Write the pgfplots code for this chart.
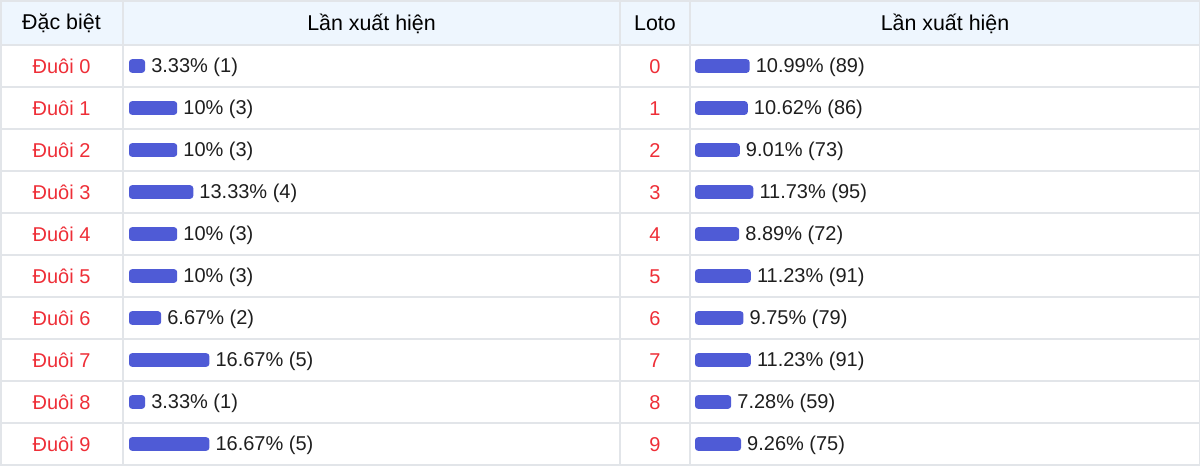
\documentclass[border=0pt]{standalone}
\usepackage{pgfplots}
\pgfplotsset{compat=1.18}
\usepackage{pgfplotstable}
\usepackage{fontspec}
\setmainfont{Liberation Sans}
\definecolor{barblue}{HTML}{4F5BD6}
\definecolor{redtxt}{HTML}{EE2E37}
\definecolor{headbg}{HTML}{EEF6FE}
\definecolor{gridc}{HTML}{E2E5E9}
\definecolor{txt}{HTML}{1E1E1E}
\newcommand\fs{\fontsize{10pt}{12pt}\selectfont}
\newcommand\hfs{\fontsize{10.7pt}{12pt}\selectfont}

\pgfplotstableread{
r pct n
0 3.33 1
1 10 3
2 10 3
3 13.33 4
4 10 3
5 10 3
6 6.67 2
7 16.67 5
8 3.33 1
9 16.67 5
}\dbtable

\pgfplotstableread{
r pct n
0 10.99 89
1 10.62 86
2 9.01 73
3 11.73 95
4 8.89 72
5 11.23 91
6 9.75 79
7 11.23 91
8 7.28 59
9 9.26 75
}\lototable

\pgfplotsset{
  rowbars/.style={
    scale only axis, height=210pt,
    anchor=north west,
    xmin=0, xmax=100, ymin=-0.5, ymax=9.5, y dir=reverse,
    xbar, bar width=6.8pt,
    axis line style={draw=none}, tick style={draw=none}, major tick length=0pt,
    xtick=\empty, ytick={0,...,9},
    yticklabel style={anchor=center, text=redtxt, font=\fs, yshift=-0.4pt},
    clip=false,
    point meta=x,
    /pgf/number format/assume math mode=true,
    nodes near coords={\pgfmathprintnumber{\pgfplotspointmeta}\% (\pgfmathprintnumber[fixed,precision=0]{\cnt})},
    every node near coord/.append style={anchor=west, inner sep=0pt, xshift=2.9pt, yshift=-0.6pt, font=\fs, text=txt},
  }
}

\begin{document}
\begin{tikzpicture}[x=0.5pt,y=-0.5pt]
\useasboundingbox (0,0) rectangle (1200,466);
\fill[headbg] (0,0) rectangle (1200,45);
\foreach \yy in {45,87,...,465} \draw[gridc,line width=1pt] (0,\yy) -- (1200,\yy);
\draw[gridc,line width=1pt] (0,0.5) -- (1200,0.5);
\foreach \xx in {123,620,690} \draw[gridc,line width=1pt] (\xx,0) -- (\xx,466);
\draw[gridc,line width=1pt] (0.5,0) -- (0.5,466);
\draw[gridc,line width=1pt] (1199.5,0) -- (1199.5,466);
\node[font=\hfs,text=black] at (61.5,23.5) {Đặc biệt};
\node[font=\hfs,text=black] at (371.5,23.5) {Lần xuất hiện};
\node[font=\hfs,text=black] at (655,23.5) {Loto};
\node[font=\hfs,text=black] at (945,23.5) {Lần xuất hiện};

\begin{axis}[rowbars, at={(64.5pt,-22.5pt)}, width=241pt,
  yticklabels={Đuôi 0,Đuôi 1,Đuôi 2,Đuôi 3,Đuôi 4,Đuôi 5,Đuôi 6,Đuôi 7,Đuôi 8,Đuôi 9},
  yticklabel style={xshift=-33.75pt}]
\addplot[fill=barblue, draw=none, rounded corners=1.5pt,
  visualization depends on={\thisrow{n}\as\cnt}] table[x=pct,y=r]{\dbtable};
\end{axis}

\begin{axis}[rowbars, at={(347.5pt,-22.5pt)}, width=248.5pt,
  yticklabels={0,1,2,3,4,5,6,7,8,9},
  yticklabel style={xshift=-20pt}]
\addplot[fill=barblue, draw=none, rounded corners=1.5pt,
  visualization depends on={\thisrow{n}\as\cnt}] table[x=pct,y=r]{\lototable};
\end{axis}
\end{tikzpicture}
\end{document}
